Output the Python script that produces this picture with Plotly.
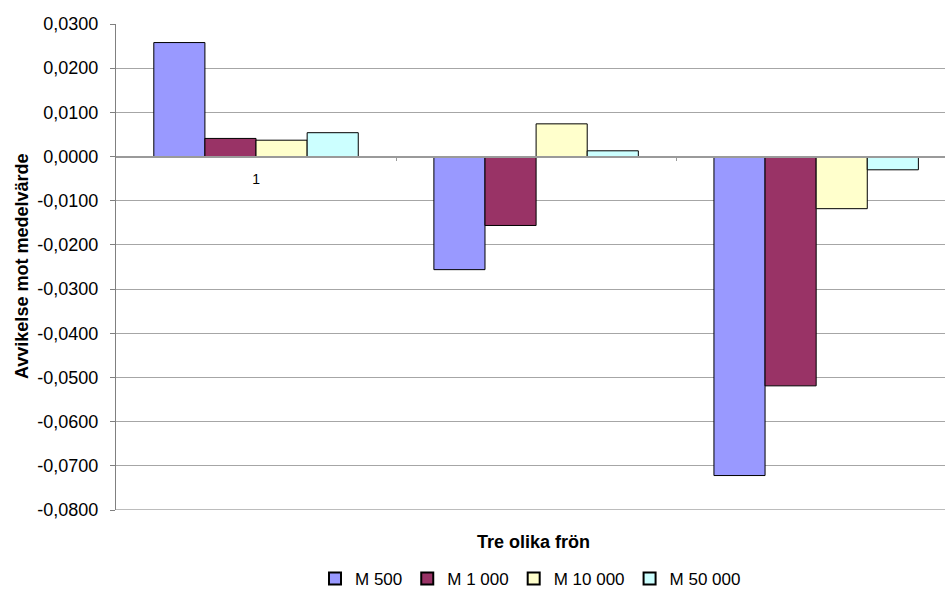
import plotly.graph_objects as go

groups = [0, 1, 2]
series_names = ["M 500", "M 1 000", "M 10 000", "M 50 000"]
m500 = [0.0258, -0.0256, -0.0722]
m1000 = [0.0041, -0.0156, -0.0519]
m10000 = [0.0037, 0.0074, -0.0118]
m50000 = [0.0054, 0.0013, -0.0030]
colors = ["#9999FF", "#993366", "#FFFFCC", "#CCFFFF"]
y_ticks = [0.03, 0.02, 0.01, 0.0, -0.01, -0.02, -0.03, -0.04, -0.05, -0.06, -0.07, -0.08]
y_ticktext = [("-" if v < 0 else "") + f"{abs(v):.4f}".replace(".", ",") for v in y_ticks]
x_ticktext = ["1"]

FONT = "Liberation Sans, Arial, sans-serif"
GRID = "#a6a6a6"

fig = go.Figure()
for name, vals, col in zip(series_names, [m500, m1000, m10000, m50000], colors):
    fig.add_trace(go.Bar(x=groups, y=vals, name=name, marker=dict(color=col, line=dict(color="#000000", width=1))))

ymin, ymax = -0.08, 0.03
fig.update_layout(
    width=945, height=590,
    margin=dict(l=116, r=0, t=24, b=80, autoexpand=False),
    paper_bgcolor="white", plot_bgcolor="white",
    barmode="group", bargap=0.27, bargroupgap=0,
    font=dict(family=FONT, size=18, color="#000000"),
    showlegend=True,
    legend=dict(orientation="h", x=0.5, xanchor="center", xref="paper",
                y=-0.142, yanchor="middle", yref="paper",
                font=dict(size=17, family=FONT), itemsizing="constant",
                itemwidth=30, tracegroupgap=0, traceorder="normal"),
    xaxis=dict(range=[-0.5, 2.46], anchor="free", position=(0 - ymin) / (ymax - ymin),
               showline=True, linecolor="#9a9a9a", linewidth=1.5, showgrid=False, zeroline=False,
               tickmode="array", tickvals=[0], ticktext=x_ticktext, ticks="",
               tickfont=dict(size=14, family=FONT), ticklabelstandoff=10,
               minor=dict(tickmode="array", tickvals=[0.5, 1.5], ticks="outside", ticklen=4,
                          tickcolor="#9a9a9a", showgrid=False)),
    yaxis=dict(range=[ymin, ymax], tickmode="array", tickvals=y_ticks, ticktext=y_ticktext,
               showgrid=True, gridcolor=GRID, gridwidth=1, zeroline=False,
               showline=True, linecolor="#808080", linewidth=1,
               ticks="outside", ticklen=5, tickcolor="#808080", ticklabelstandoff=8,
               tickfont=dict(size=18, family=FONT)),
)

# bottom gridline (at the lower range edge)
fig.add_shape(type="line", xref="paper", x0=0, x1=1, yref="y", y0=ymin, y1=ymin,
              line=dict(color=GRID, width=1.5), layer="below")

fig.add_annotation(text="<b>Avvikelse mot medelvärde</b>", xref="paper", yref="paper",
                   x=(22 - 116) / 829, y=0.5, textangle=-90, showarrow=False,
                   xanchor="center", yanchor="middle", font=dict(size=18, family=FONT))
fig.add_annotation(text="<b>Tre olika frön</b>", xref="paper", yref="paper",
                   x=(533 - 116) / 829, y=-(542 - 510) / 486, showarrow=False,
                   xanchor="center", yanchor="middle", font=dict(size=18, family=FONT))

fig.write_html("out.html")
